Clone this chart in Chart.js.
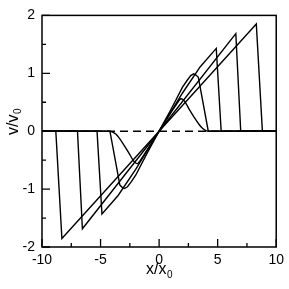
<!DOCTYPE html>
<html>
<head>
<meta charset="utf-8">
<script src="https://cdn.jsdelivr.net/npm/chart.js@4.4.1/dist/chart.umd.min.js"></script>
<style>
  html, body { margin: 0; padding: 0; background: #fff; }
  #wrap { width: 289px; height: 289px; }
</style>
</head>
<body>
<div id="wrap"><canvas id="chart"></canvas></div>
<script>
// tick values
const xTicks = [-10, -5, 0, 5, 10];
const xMinor = [-7.5, -2.5, 2.5, 7.5];
const yTicks = [-2, -1, 0, 1, 2];
const yMinor = [-1.5, -0.5, 0.5, 1.5];

// dashed reference line v = 0
const zeroX = [-10, 10];
const zeroV = [0, 0];

// smooth initial profile
const c0X = [-10, -4.3, -4.0, -3.7, -3.4, -3.0, -2.6, -2.2, -2.0, -1.85, -1.7, -1.5, -1.2, -0.6, 0, 0.6, 1.2, 1.5, 1.7, 1.85, 2.0, 2.2, 2.6, 3.0, 3.4, 3.7, 4.0, 4.3, 10];
const c0V = [0, 0, -0.01, -0.05, -0.12, -0.24, -0.37, -0.51, -0.55, -0.56, -0.53, -0.47, -0.38, -0.19, 0, 0.19, 0.38, 0.47, 0.53, 0.56, 0.55, 0.51, 0.37, 0.24, 0.12, 0.05, 0.01, 0, 0];

// later profiles (steepened)
const c1X = [-10, -4.2, -3.35, -3.15, -2.95, -2.7, -2.4, -2.0, -1.0, 0, 1.0, 2.0, 2.4, 2.7, 2.95, 3.15, 3.35, 4.2, 10];
const c1V = [0, 0, -0.93, -0.97, -0.99, -0.96, -0.88, -0.76, -0.37, 0, 0.37, 0.76, 0.88, 0.96, 0.99, 0.97, 0.93, 0, 0];

const c2X = [-10, -5.3, -4.88, -3.5, -2.0, 0, 2.0, 3.5, 4.88, 5.3, 10];
const c2V = [0, 0, -1.43, -1.11, -0.66, 0, 0.66, 1.11, 1.43, 0, 0];

const c3X = [-10, -6.97, -6.55, 0, 6.55, 6.97, 10];
const c3V = [0, 0, -1.685, 0, 1.685, 0, 0];

const c4X = [-10, -8.82, -8.3, 0, 8.3, 8.82, 10];
const c4V = [0, 0, -1.853, 0, 1.853, 0, 0];

const pts = (xs, vs) => xs.map((x, i) => ({ x: x, y: vs[i] }));

const curve = (xs, vs, tension) => ({
  data: pts(xs, vs),
  borderColor: "#000",
  borderWidth: 1.4,
  pointRadius: 0,
  tension: tension || 0,
  fill: false
});

const FONT = "'Liberation Sans', Arial, sans-serif";

// frame, inward ticks and axis titles with subscripts
const decor = {
  id: "decor",
  afterDraw(chart) {
    const ctx = chart.ctx;
    const a = chart.chartArea;
    const sx = chart.scales.x, sy = chart.scales.y;
    ctx.save();
    ctx.strokeStyle = "#000";
    ctx.lineWidth = 1.5;
    ctx.strokeRect(a.left, a.top, a.right - a.left, a.bottom - a.top);

    ctx.lineWidth = 1.3;
    ctx.beginPath();
    xTicks.forEach(v => { const p = sx.getPixelForValue(v); ctx.moveTo(p, a.bottom); ctx.lineTo(p, a.bottom - 8); });
    xMinor.forEach(v => { const p = sx.getPixelForValue(v); ctx.moveTo(p, a.bottom); ctx.lineTo(p, a.bottom - 4); });
    yTicks.forEach(v => { const p = sy.getPixelForValue(v); ctx.moveTo(a.left, p); ctx.lineTo(a.left + 8, p); });
    yMinor.forEach(v => { const p = sy.getPixelForValue(v); ctx.moveTo(a.left, p); ctx.lineTo(a.left + 4, p); });
    ctx.stroke();

    ctx.fillStyle = "#000";
    ctx.textBaseline = "alphabetic";
    ctx.textAlign = "left";
    // x title
    ctx.font = "16px " + FONT;
    const w1 = ctx.measureText("x/x").width;
    ctx.font = "10px " + FONT;
    const w2 = ctx.measureText("0").width;
    const cx = (a.left + a.right) / 2;
    let x0 = cx - (w1 + w2) / 2;
    ctx.font = "16px " + FONT;
    ctx.fillText("x/x", x0, 274);
    ctx.font = "10px " + FONT;
    ctx.fillText("0", x0 + w1 + 0.5, 278);

    // y title, rotated
    ctx.translate(18, 122);
    ctx.rotate(-Math.PI / 2);
    ctx.font = "16px " + FONT;
    const h1 = ctx.measureText("v/v").width;
    let y0 = -(h1 + w2) / 2;
    ctx.fillText("v/v", y0, 0);
    ctx.font = "10px " + FONT;
    ctx.fillText("0", y0 + h1 + 0.5, 3);
    ctx.restore();
  }
};

new Chart(document.getElementById("chart"), {
  type: "line",
  data: {
    datasets: [
      Object.assign(curve(zeroX, zeroV), { borderDash: [8, 5] }),
      curve(c0X, c0V, 0.3),
      curve(c1X, c1V),
      curve(c2X, c2V),
      curve(c3X, c3V),
      curve(c4X, c4V)
    ]
  },
  options: {
    responsive: true,
    maintainAspectRatio: false,
    animation: false,
    devicePixelRatio: 1,
    layout: { padding: { top: 7, right: 8, left: 0, bottom: 0 } },
    plugins: { legend: { display: false }, tooltip: { enabled: false } },
    scales: {
      x: {
        type: "linear",
        min: -10, max: 10,
        afterFit(s) { s.height = 42; },
        afterBuildTicks(s) { s.ticks = xTicks.map(v => ({ value: v })); },
        grid: { display: false, drawTicks: false },
        border: { display: false },
        ticks: { color: "#000", padding: 5, font: { family: FONT, size: 14 } }
      },
      y: {
        type: "linear",
        min: -2, max: 2,
        afterFit(s) { s.width = 42; },
        afterBuildTicks(s) { s.ticks = yTicks.map(v => ({ value: v })); },
        grid: { display: false, drawTicks: false },
        border: { display: false },
        ticks: { color: "#000", padding: 7, font: { family: FONT, size: 14 } }
      }
    }
  },
  plugins: [decor]
});
</script>
</body>
</html>
